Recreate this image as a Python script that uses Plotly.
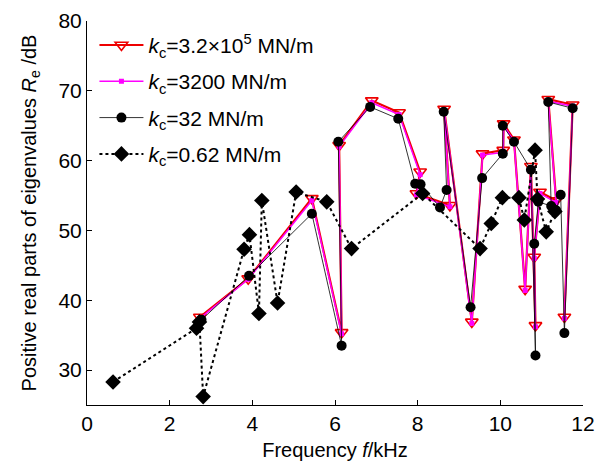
import plotly.graph_objects as go

# ---- data (frequency kHz, real part dB), in drawn order ----
f_red = [2.73, 3.90, 5.44, 6.16, 6.10, 6.89, 7.55, 8.06, 7.97, 8.78, 8.64, 9.31, 9.57, 10.07, 10.08, 10.33,
         10.60, 10.74, 10.85, 10.82, 10.96, 11.35, 11.16, 11.75, 11.55]
v_red = [37.6, 43.1, 54.6, 35.4, 62.2, 68.6, 66.9, 58.4, 55.3, 53.6, 67.4, 36.9, 61.0, 61.5, 65.3, 63.0,
         41.6, 59.2, 36.4, 46.2, 55.5, 54.3, 68.8, 68.0, 37.6]

f_mag = [2.73, 3.90, 5.44, 6.16, 6.10, 6.89, 7.55, 8.06, 7.97, 8.78, 8.64, 9.31, 9.57, 10.07, 10.08, 10.33,
         10.60, 10.74, 10.85, 10.82, 10.96, 11.35, 11.16, 11.75, 11.55]
v_mag = [37.4, 43.0, 54.3, 35.2, 62.0, 68.3, 66.6, 58.0, 55.1, 53.4, 67.2, 36.7, 60.8, 61.2, 65.0, 62.8,
         41.4, 59.0, 36.2, 46.0, 55.3, 54.0, 68.5, 67.8, 37.4]

f_blk = [2.77, 3.92, 5.44, 6.16, 6.08, 6.85, 7.53, 7.94, 8.07, 8.54, 8.70, 8.63, 9.28, 9.56, 10.06, 10.06,
         10.33, 10.74, 10.85, 10.82, 10.92, 11.23, 11.16, 11.75, 11.55, 11.46, 11.35]
v_blk = [37.2, 43.5, 52.4, 33.5, 62.7, 67.7, 66.0, 56.7, 56.6, 53.3, 55.8, 67.0, 39.0, 57.5, 61.0, 65.0,
         62.7, 58.7, 32.1, 48.1, 54.1, 53.5, 68.4, 67.5, 35.3, 55.1, 52.9]

f_dot = [0.63, 2.65, 2.72, 2.81, 3.80, 3.93, 4.16, 4.23, 4.61, 5.06, 5.80, 6.40, 8.12, 9.51, 9.78, 10.05,
         10.45, 10.58, 10.84, 10.90, 11.11, 11.32]
v_dot = [28.3, 36.0, 36.9, 26.2, 47.3, 49.4, 38.1, 54.3, 39.6, 55.5, 54.1, 47.4, 55.3, 47.4, 51.0, 54.7,
         54.7, 51.5, 61.5, 54.5, 49.8, 52.7]

names = ["<i>k</i><sub>c</sub>=3.2×10<sup>5</sup> MN/m",
         "<i>k</i><sub>c</sub>=3200 MN/m",
         "<i>k</i><sub>c</sub>=32 MN/m",
         "<i>k</i><sub>c</sub>=0.62 MN/m"]

x_ticks = [0, 2, 4, 6, 8, 10, 12]
y_ticks = [30, 40, 50, 60, 70, 80]

FONT = "Liberation Sans, Arial, sans-serif"

fig = go.Figure()
fig.add_trace(go.Scatter(x=f_red, y=v_red, mode="lines+markers", name=names[0], legendgroup="a",
                         line=dict(color="#ee0000", width=2.2),
                         marker=dict(symbol="triangle-down-open", size=11, color="#ee0000",
                                     line=dict(width=1.6, color="#ee0000"))))
fig.add_trace(go.Scatter(x=f_mag, y=v_mag, mode="lines+markers", name=names[1], legendgroup="b",
                         line=dict(color="#ff00ff", width=1.5),
                         marker=dict(symbol="square", size=5, color="#ff00ff")))
fig.add_trace(go.Scatter(x=f_blk, y=v_blk, mode="lines+markers", name=names[2], legendgroup="c",
                         line=dict(color="#000000", width=0.8),
                         marker=dict(symbol="circle", size=10, color="#000000")))
fig.add_trace(go.Scatter(x=f_dot, y=v_dot, mode="lines+markers", name=names[3], legendgroup="d",
                         line=dict(color="#000000", width=2, dash="dot"),
                         marker=dict(symbol="diamond", size=12, color="#000000")))

fig.update_layout(
    width=605, height=461,
    margin=dict(l=87, r=22, t=21, b=56),
    paper_bgcolor="white", plot_bgcolor="white",
    font=dict(family=FONT, size=20, color="black"),
    showlegend=True,
    legend=dict(x=0.015, y=0.99, xanchor="left", yanchor="top",
                bgcolor="rgba(255,255,255,0)", borderwidth=0,
                font=dict(family=FONT, size=21, color="black"),
                tracegroupgap=6, itemwidth=44),
    xaxis=dict(range=[0, 12], tickvals=x_ticks, ticks="inside", ticklen=5, tickcolor="black",
               showline=True, linecolor="black", linewidth=1, showgrid=False, zeroline=False,
               tickfont=dict(size=21), automargin=False,
               title=dict(text="Frequency <i>f</i>/kHz", font=dict(size=20), standoff=8)),
    yaxis=dict(range=[25, 80], tickvals=y_ticks, ticks="inside", ticklen=5, tickcolor="black",
               showline=True, linecolor="black", linewidth=1, showgrid=False, zeroline=False,
               tickfont=dict(size=21), automargin=False,
               title=dict(text="Positive real parts of eigenvalues <i>R</i><sub>e</sub> /dB",
                          font=dict(size=20), standoff=16)),
)

fig.write_html("out.html")
